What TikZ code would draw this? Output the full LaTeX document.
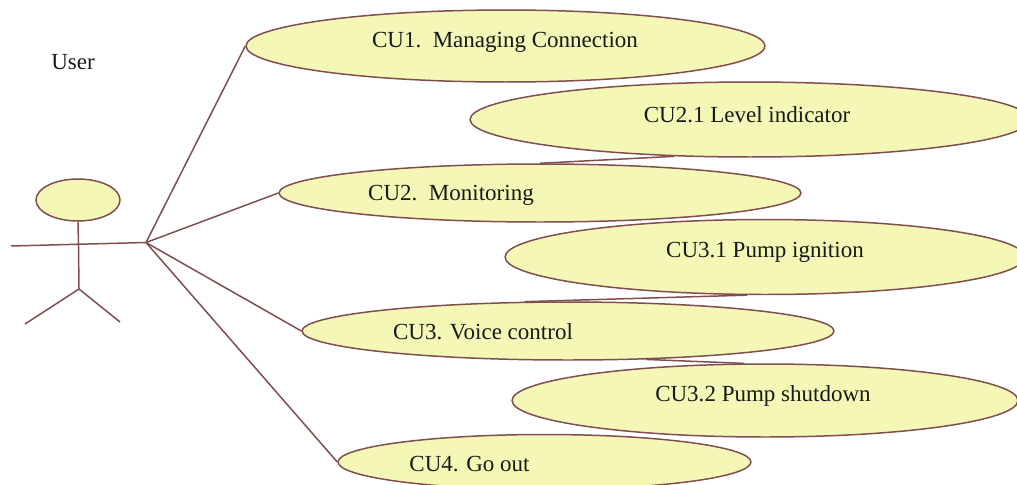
\documentclass[tikz,border=0pt]{standalone}
\usepackage{fontspec}
\setmainfont{Liberation Serif}
\usetikzlibrary{shapes,shapes.geometric}
\definecolor{casefill}{RGB}{244,247,181}
\definecolor{caseline}{RGB}{128,78,78}
\tikzset{
	usecase/.style={ellipse,draw=caseline,fill=casefill,line width=0.85pt,inner sep=0pt},
	caselabel/.style={inner sep=0pt,font=\fontsize{13.1}{16}\selectfont,text=black!90},
	caselink/.style={caseline,line width=0.85pt}
}
\begin{document}
\begin{tikzpicture}[x=0.02cm,y=-0.02cm]
	\clip (0,0) rectangle (1017,484);
	% actor
	\node[usecase,minimum width=1.68cm,minimum height=0.84cm] (head) at (78,200) {};
	\coordinate (neck) at (78.5,246);
	\coordinate (hip) at (79,289);
	\coordinate (handl) at (11,246);
	\coordinate (hand) at (146,242.5);
	\coordinate (footl) at (25,324);
	\coordinate (footr) at (120,322);
	\draw[caselink] (head.south) -- (neck) -- (hip);
	\draw[caselink] (handl) -- (hand);
	\draw[caselink] (footl) -- (hip) -- (footr);
	\node[caselabel] (user) at (73,62) {User};
	% use cases
	\node[usecase,minimum width=10.38cm,minimum height=1.44cm] (cu1) at (505.5,46) {};
	\node[usecase,minimum width=11.2cm,minimum height=1.5cm] (cu21) at (750,119.5) {};
	\node[usecase,minimum width=10.44cm,minimum height=1.16cm] (cu2) at (540,193) {};
	\node[usecase,minimum width=10.4cm,minimum height=1.5cm] (cu31) at (765,257) {};
	\node[usecase,minimum width=10.64cm,minimum height=1.16cm] (cu3) at (568,331) {};
	\node[usecase,minimum width=10.12cm,minimum height=1.46cm] (cu32) at (765,400.5) {};
	\node[usecase,minimum width=8.26cm,minimum height=1.1cm] (cu4) at (544.5,462) {};
	% labels
	\node[caselabel] (cu1text) at (505,42) {CU1.\ \ Managing Connection};
	\node[caselabel] (cu21text) at (747,115) {CU2.1 Level indicator};
	\node[caselabel] (cu2text) at (451,195) {CU2.\ \ Monitoring};
	\node[caselabel] (cu31text) at (765,252.5) {CU3.1 Pump ignition};
	\node[caselabel] (cu3text) at (483,331.5) {CU3. Voice control};
	\node[caselabel] (cu32text) at (763,396) {CU3.2 Pump shutdown};
	\node[caselabel] (cu4text) at (469.5,464) {CU4. Go out};
	% links
	\draw[caselink] (hand) -- (cu1.west);
	\draw[caselink] (hand) -- (cu2.west);
	\draw[caselink] (hand) -- (cu3.west);
	\draw[caselink] (hand) -- (cu4.west);
	\draw[caselink] (cu2.north) -- (cu21.206);
	\draw[caselink] (cu3.146) -- (cu31.245);
	\draw[caselink] (cu3.-20) -- (cu32.119);
\end{tikzpicture}
\end{document}
